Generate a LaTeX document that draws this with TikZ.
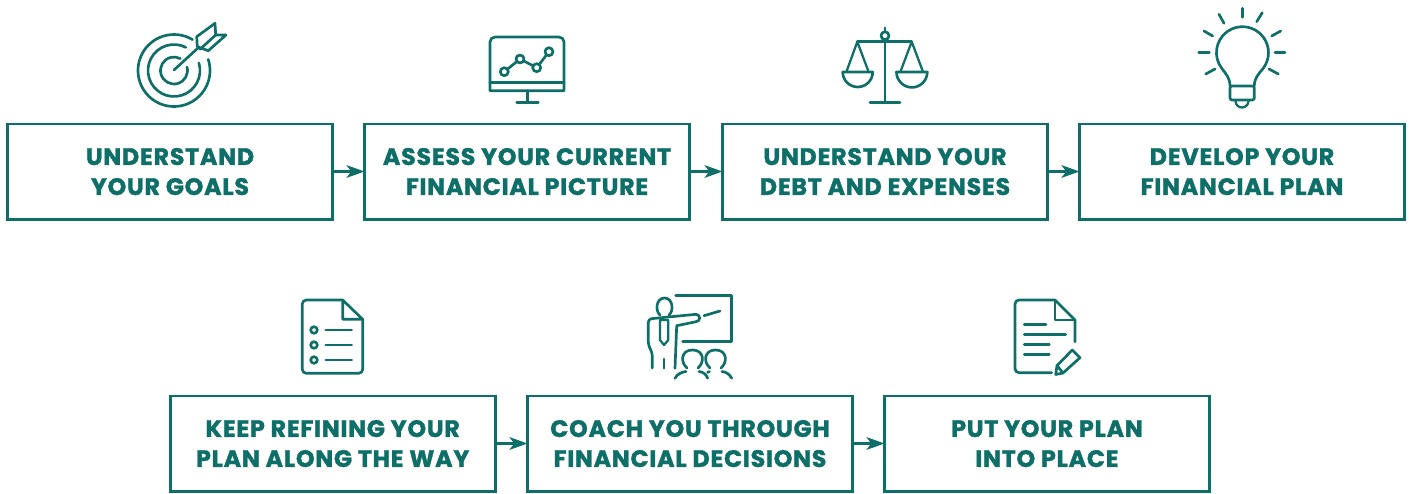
\documentclass[tikz,border=0pt]{standalone}
\usepackage{fontspec}
\setmainfont{Poppins}[BoldFeatures={FakeBold=1.4, LetterSpace=3}]
\usepackage{tikz}
\usetikzlibrary{calc, arrows.meta}
\definecolor{planteal}{RGB}{14,110,104}

\begin{document}
\begin{tikzpicture}[x=0.75pt, y=-0.75pt]
      % Styles
      \tikzset{step_box/.style={draw=planteal, line width=2pt, minimum width=243.75pt, minimum height=71.5pt, outer sep=0pt, align=center, text=planteal, text depth=-1pt, font=\fontsize{17.85}{22.5}\selectfont\bfseries}}
      \tikzset{step_arrow/.style={draw=planteal, line width=1.6pt, -{Stealth[length=13.5pt, width=9.5pt, inset=3.5pt]}}}
      \tikzset{icon_line/.style={draw=planteal, line width=2pt, line cap=round, line join=round}}
      \tikzset{thin_line/.style={icon_line, line width=1.7pt}}

      \useasboundingbox (0,0) rectangle (1411,493);

      % --- Top row of steps ---
      \node[step_box] (goals) at (170, 171.5) {UNDERSTAND\\YOUR GOALS};
      \node[step_box] (picture) at (527, 171.5) {ASSESS YOUR CURRENT\\FINANCIAL PICTURE};
      \node[step_box] (debt) at (885, 171.5) {UNDERSTAND YOUR\\DEBT AND EXPENSES};
      \node[step_box] (develop) at (1242, 171.5) {DEVELOP YOUR\\FINANCIAL PLAN};

      % --- Bottom row of steps ---
      \node[step_box] (refine) at (332.7, 443.5) {KEEP REFINING YOUR\\PLAN ALONG THE WAY};
      \node[step_box] (coach) at (690, 443.5) {COACH YOU THROUGH\\FINANCIAL DECISIONS};
      \node[step_box] (place) at (1047, 443.5) {PUT YOUR PLAN\\INTO PLACE};

      % --- Arrows between the steps ---
      \draw[step_arrow] (goals) -- (picture);
      \draw[step_arrow] (picture) -- (debt);
      \draw[step_arrow] (debt) -- (develop);
      \draw[step_arrow] (refine) -- (coach);
      \draw[step_arrow] (coach) -- (place);

      % Target icon
      \draw[icon_line] (174,70.5) ++(-18:36) arc[start angle=-18, end angle=301, radius=36];
      \draw[icon_line] (174,70.5) ++(-17:26) arc[start angle=-17, end angle=297, radius=26];
      \draw[icon_line] (174,70.5) ++(-15:13.5) arc[start angle=-15, end angle=298, radius=13.5];
      \draw[icon_line] (174,70) -- (198,48);
      \draw[icon_line] (196.7,36.7) -- (215,23.3) -- (215.7,35) -- (226,35) -- (208.3,50.7) -- (197.3,46.7) -- cycle;
      \draw[icon_line] (200,49.3) -- (215.7,35);

      % Monitor icon
      \draw[icon_line] (490,90.7) -- (490,42) arc[start angle=180, end angle=270, radius=5] -- (559,37) arc[start angle=270, end angle=360, radius=5] -- (564,90.7) -- cycle;
      \draw[icon_line] (490,82.3) -- (564,82.3);
      \draw[icon_line] (527.3,90.7) -- (527.3,102.7);
      \draw[icon_line] (516.7,102.7) -- (538.3,102.7);
      \draw[icon_line] (504.3,71.7) -- (520,59) -- (536.7,67.7) -- (549,51.7);
      \foreach \px/\py in {504.3/71.7, 520/59, 536.7/67.7, 549/51.7}
        \draw[icon_line, fill=white] (\px,\py) circle (4);

      % Scales icon
      \draw[icon_line] (885,27.7) -- (885,31.7);
      \draw[icon_line] (885,35.7) circle (4);
      \draw[icon_line] (885,39.7) -- (885,102.3);
      \draw[icon_line] (870,102.3) -- (900,102.3);
      \draw[icon_line] (857.3,41.7) -- (911.7,41.7);
      \draw[thin_line] (846.7,71) -- (857.3,41.7) -- (868.3,71);
      \draw[thin_line] (900.7,71) -- (911.7,41.7) -- (922.7,71);
      \draw[icon_line] (842.7,72) arc[start angle=180, end angle=0, radius=15] -- cycle;
      \draw[icon_line] (896.5,72) arc[start angle=180, end angle=0, radius=15.4] -- cycle;

      % Bulb icon
      \draw[icon_line] (1230,86) .. controls (1230,78) and (1226,74) .. (1221.7,68.3) arc[start angle=143, end angle=397, radius=26] .. controls (1258.6,74) and (1254.3,78) .. (1254.3,86);
      \draw[icon_line, rounded corners=1.5pt] (1230,86) rectangle (1254.3,100);
      \draw[thin_line] (1235.5,101) arc[start angle=180, end angle=0, radius=6.5];
      \foreach \xa/\ya/\xb/\yb in {1242.3/17.3/1242.3/8.3, 1224/23.3/1219/14.3, 1256.7/21.7/1262.3/12.7, 1212.7/36/1204/31, 1271.7/36/1280.7/31, 1209.3/52.7/1198.7/52.7, 1275/52.7/1285/52.7, 1205.7/74/1215/69, 1269/69/1278.3/74}
        \draw[icon_line] (\xa,\ya) -- (\xb,\yb);

      % Checklist icon
      \draw[icon_line, rounded corners=3pt] (342.7,300) -- (302.3,300) -- (302.3,373.3) -- (362.7,373.3) -- (362.7,319.3);
      \draw[icon_line] (342.7,300) -- (362.7,319.3) -- (342.7,319.3) -- cycle;
      \foreach \py in {330, 345, 360} {
        \draw[icon_line] (314,\py) circle (3.3);
        \draw[icon_line] (325.7,\py) -- (351.7,\py);
      }

      % Presenter icon
      \draw[icon_line] (675.7,295.7) -- (731.7,295.7) -- (731.7,341.7) -- (682.7,341.7);
      \draw[icon_line] (704,315.7) -- (720,311);
      \draw[icon_line] (660,315) .. controls (655,311) and (656,298) .. (664.5,298) .. controls (673,298) and (674,311) .. (669,315);
      \draw[icon_line, rounded corners=2.5pt] (652.3,368) -- (652.3,353) -- (648.3,345) -- (648.3,319) -- (658,318) -- (696,314.3);
      \draw[icon_line] (696,314.3) arc[start angle=-90, end angle=90, radius=3.7] -- (676.7,325.7) -- (675,368.3);
      \draw[thin_line] (660,320) -- (660,340) -- (664,345) -- (668.3,340) -- (668.3,320) -- cycle;
      \draw[icon_line] (664,359) -- (664,368.3);
      \draw[icon_line] (687,368) .. controls (680,362) and (681,350) .. (692.5,350) .. controls (704,350) and (705,362) .. (698,368);
      \draw[icon_line] (710,368) .. controls (703,362) and (704,350) .. (715.5,350) .. controls (727,350) and (728,362) .. (721,368);
      \draw[icon_line] (675,378.3) .. controls (677,374) and (682,372) .. (686,371.5) (699,371.5) .. controls (703,372) and (706,374) .. (707.7,378.3);
      \draw[icon_line] (707.5,372.5) -- (709.5,371.5) (722,371.5) .. controls (726,372) and (729.5,374) .. (731.7,378.3);

      % Document and pen icon
      \draw[icon_line, rounded corners=3pt] (1051.7,372.7) -- (1015,372.7) -- (1015,300) -- (1055,300);
      \draw[icon_line] (1055,300) -- (1075,320) -- (1075,341.7);
      \draw[icon_line] (1055,300) -- (1055,320) -- (1075,320);
      \foreach \py/\xb in {324.3/1046, 334.3/1065.7, 344.3/1049.3, 354.3/1049.3}
        \draw[icon_line] (1024.3,\py) -- (\xb,\py);
      \draw[icon_line] (1072.3,350) -- (1080,357.7) -- (1063,373) -- (1055.7,374.5) -- (1057,365.5) -- cycle;
      \draw[icon_line] (1057,365.5) -- (1063,373);
    \end{tikzpicture}
\end{document}
